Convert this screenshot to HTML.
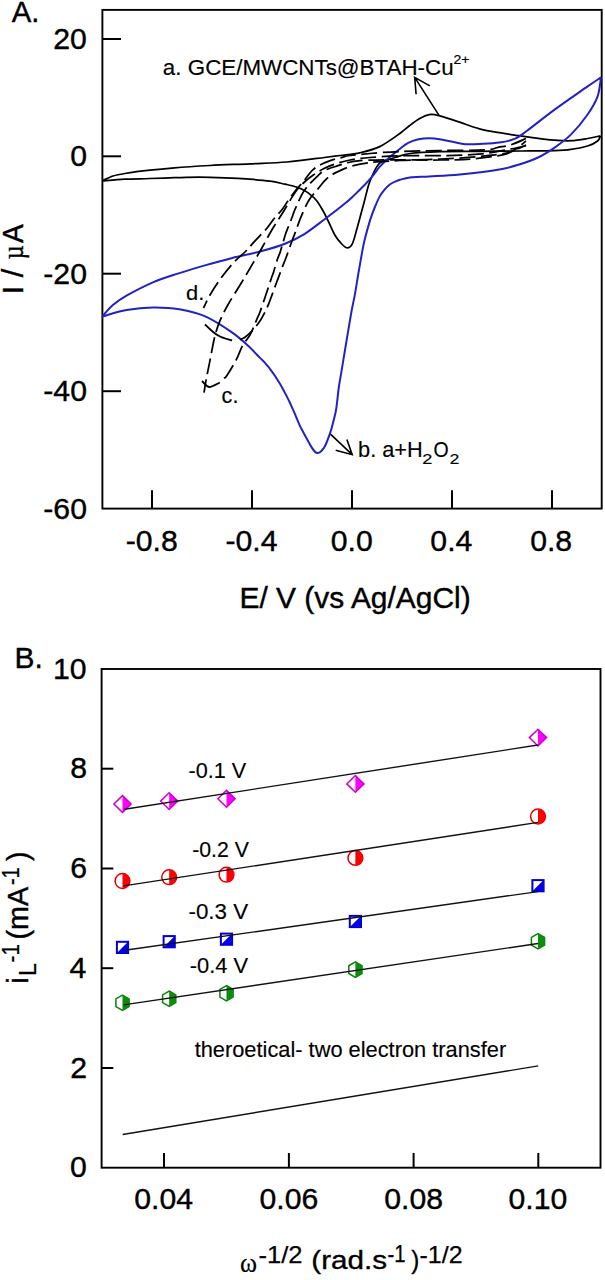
<!DOCTYPE html>
<html><head><meta charset="utf-8"><style>
html,body{margin:0;padding:0;background:#fff;overflow:hidden;}
svg{display:block;}
</style></head><body>
<svg width="605" height="1280" viewBox="0 0 605 1280">
<rect width="605" height="1280" fill="#fff"/>
<rect x="102.4" y="9.9" width="499.3" height="498.7" fill="none" stroke="#000" stroke-width="1.9"/>
<line x1="102.4" y1="39.0" x2="121.0" y2="39.0" stroke="#000" stroke-width="2"/>
<line x1="102.4" y1="156.3" x2="121.0" y2="156.3" stroke="#000" stroke-width="2"/>
<line x1="102.4" y1="273.7" x2="121.0" y2="273.7" stroke="#000" stroke-width="2"/>
<line x1="102.4" y1="391.2" x2="121.0" y2="391.2" stroke="#000" stroke-width="2"/>
<line x1="152.0" y1="508.6" x2="152.0" y2="490.3" stroke="#000" stroke-width="2"/>
<line x1="252.0" y1="508.6" x2="252.0" y2="490.3" stroke="#000" stroke-width="2"/>
<line x1="352.0" y1="508.6" x2="352.0" y2="490.3" stroke="#000" stroke-width="2"/>
<line x1="452.0" y1="508.6" x2="452.0" y2="490.3" stroke="#000" stroke-width="2"/>
<line x1="552.0" y1="508.6" x2="552.0" y2="490.3" stroke="#000" stroke-width="2"/>
<text x="53.28" y="49.00" font-size="30.20" stroke="#000" stroke-width="0.40" font-family='"Liberation Sans", sans-serif' fill="#000" >20</text>
<text x="70.20" y="166.30" font-size="30.20" stroke="#000" stroke-width="0.40" font-family='"Liberation Sans", sans-serif' fill="#000" >0</text>
<text x="43.32" y="283.70" font-size="30.20" stroke="#000" stroke-width="0.40" font-family='"Liberation Sans", sans-serif' fill="#000" >-20</text>
<text x="43.32" y="401.20" font-size="30.20" stroke="#000" stroke-width="0.40" font-family='"Liberation Sans", sans-serif' fill="#000" >-40</text>
<text x="43.32" y="518.80" font-size="30.20" stroke="#000" stroke-width="0.40" font-family='"Liberation Sans", sans-serif' fill="#000" >-60</text>
<text x="125.73" y="551.00" font-size="30.20" stroke="#000" stroke-width="0.40" font-family='"Liberation Sans", sans-serif' fill="#000" >-0.8</text>
<text x="225.43" y="551.00" font-size="30.20" stroke="#000" stroke-width="0.40" font-family='"Liberation Sans", sans-serif' fill="#000" >-0.4</text>
<text x="330.71" y="551.00" font-size="30.20" stroke="#000" stroke-width="0.40" font-family='"Liberation Sans", sans-serif' fill="#000" >0.0</text>
<text x="430.36" y="551.00" font-size="30.20" stroke="#000" stroke-width="0.40" font-family='"Liberation Sans", sans-serif' fill="#000" >0.4</text>
<text x="530.16" y="551.00" font-size="30.20" stroke="#000" stroke-width="0.40" font-family='"Liberation Sans", sans-serif' fill="#000" >0.8</text>
<text x="11.80" y="22.30" font-size="29.60" stroke="#000" stroke-width="0.40" textLength="27.69" lengthAdjust="spacingAndGlyphs" font-family='"Liberation Sans", sans-serif' fill="#000" >A.</text>
<text x="239.41" y="607.50" font-size="29.50" stroke="#000" stroke-width="0.40" textLength="231.32" lengthAdjust="spacingAndGlyphs" font-family='"Liberation Sans", sans-serif' fill="#000" >E/ V (vs Ag/AgCl)</text>
<g transform="translate(22.5,292.0) rotate(-90)"><text x="-2.23" y="0.00" font-size="29.50" stroke="#000" stroke-width="0.40" textLength="25.32" lengthAdjust="spacingAndGlyphs" font-family='"Liberation Sans", sans-serif' fill="#000" >I /</text><text x="32.74" y="0.00" font-size="29.00" stroke="#000" stroke-width="0.40" textLength="13.97" lengthAdjust="spacingAndGlyphs" font-family='"Liberation Serif", serif' fill="#000" >µ</text><text x="48.99" y="0.00" font-size="29.50" stroke="#000" stroke-width="0.40" textLength="18.72" lengthAdjust="spacingAndGlyphs" font-family='"Liberation Sans", sans-serif' fill="#000" >A</text></g>
<text x="162.88" y="74.80" font-size="21.80" stroke="#000" stroke-width="0.15" textLength="290.74" lengthAdjust="spacingAndGlyphs" font-family='"Liberation Sans", sans-serif' fill="#000" >a. GCE/MWCNTs@BTAH-Cu</text>
<text x="453.60" y="63.90" font-size="13.50" stroke="#000" stroke-width="0.20" textLength="15.95" lengthAdjust="spacingAndGlyphs" font-family='"Liberation Sans", sans-serif' fill="#000" >2+</text>
<text x="358.07" y="456.80" font-size="21.80" stroke="#000" stroke-width="0.15" textLength="64.68" lengthAdjust="spacingAndGlyphs" font-family='"Liberation Sans", sans-serif' fill="#000" >b. a+H</text>
<text x="422.31" y="464.00" font-size="15.00" stroke="#000" stroke-width="0.20" textLength="10.10" lengthAdjust="spacingAndGlyphs" font-family='"Liberation Sans", sans-serif' fill="#000" >2</text>
<text x="433.49" y="456.80" font-size="21.80" stroke="#000" stroke-width="0.15" textLength="15.17" lengthAdjust="spacingAndGlyphs" font-family='"Liberation Sans", sans-serif' fill="#000" >O</text>
<text x="449.76" y="464.00" font-size="15.00" stroke="#000" stroke-width="0.20" textLength="9.52" lengthAdjust="spacingAndGlyphs" font-family='"Liberation Sans", sans-serif' fill="#000" >2</text>
<text x="221.61" y="403.00" font-size="21.50" stroke="#000" stroke-width="0.15" textLength="16.81" lengthAdjust="spacingAndGlyphs" font-family='"Liberation Sans", sans-serif' fill="#000" >c.</text>
<text x="186.10" y="299.50" font-size="21.00" stroke="#000" stroke-width="0.15" textLength="18.26" lengthAdjust="spacingAndGlyphs" font-family='"Liberation Sans", sans-serif' fill="#000" >d.</text>
<path d="M439.2,115.6 L414.7,77.4 M416.1,94.3 L414.7,77.4 L429.8,85.9" fill="none" stroke="#000" stroke-width="1.6"/>
<path d="M329.9,433.6 L352.2,454.7 M335.7,450.2 L352.2,454.7 L346.9,439.4" fill="none" stroke="#000" stroke-width="1.6"/>
<path d="M102.0,181.0 C103.8,180.2 109.2,177.2 113.0,176.0 C116.8,174.8 118.6,174.5 124.8,173.5 C131.0,172.5 141.7,171.1 150.0,170.2 C158.3,169.2 164.4,168.6 174.4,167.8 C184.4,167.0 197.4,166.2 210.0,165.5 C222.6,164.8 237.2,164.4 250.0,163.8 C262.8,163.2 274.6,163.1 287.0,162.0 C299.4,160.9 315.6,158.6 324.4,157.5 C333.2,156.4 334.1,156.3 340.0,155.5 C345.9,154.7 353.2,154.3 359.8,152.8 C366.4,151.3 373.1,149.8 379.7,146.6 C386.3,143.4 394.6,137.2 399.5,133.7 C404.4,130.2 406.1,128.3 409.4,125.8 C412.7,123.3 416.0,120.7 419.3,118.8 C422.6,116.9 425.9,115.1 429.3,114.6 C432.7,114.1 434.7,114.6 439.8,115.9 C444.9,117.2 453.1,120.0 459.7,122.2 C466.3,124.4 472.9,127.1 479.5,128.8 C486.1,130.6 492.7,131.5 499.3,132.7 C505.9,133.8 512.4,134.7 519.2,135.7 C526.0,136.7 534.1,137.8 540.0,138.6 C545.9,139.3 549.4,139.8 554.6,140.2 C559.8,140.5 565.6,141.0 571.1,140.7 C576.6,140.4 582.7,139.3 587.6,138.5 C592.5,137.7 598.4,136.2 600.5,135.8 M600.5,135.8 C600.0,136.7 599.8,139.3 597.6,141.0 C595.5,142.7 592.0,144.6 587.6,146.0 C583.2,147.4 576.6,148.5 571.1,149.3 C565.6,150.1 562.9,150.3 554.6,150.6 C546.3,150.9 533.9,150.9 521.5,151.0 C509.1,151.1 493.6,151.2 480.0,151.3 C466.4,151.4 451.7,151.2 440.0,151.6 C428.3,152.0 417.5,152.5 410.0,153.5 C402.5,154.5 399.0,156.4 395.0,157.5 C391.0,158.6 388.4,159.4 386.0,160.2 C383.6,161.0 382.2,161.1 380.6,162.2 C379.1,163.3 378.0,164.8 376.7,166.9 C375.4,169.0 374.0,171.8 372.7,174.8 C371.4,177.8 370.0,180.6 368.7,184.7 C367.4,188.8 366.1,194.6 364.8,199.6 C363.5,204.6 362.1,209.6 360.8,214.5 C359.5,219.4 358.2,224.4 356.8,229.3 C355.4,234.2 353.9,240.7 352.3,243.8 C350.7,246.9 348.9,247.9 347.0,247.8 C345.1,247.7 343.0,245.3 341.0,243.2 C339.0,241.1 337.1,238.9 335.0,235.3 C332.9,231.8 330.6,225.9 328.6,221.9 C326.7,217.9 325.3,214.8 323.3,211.3 C321.3,207.8 319.1,203.7 316.7,200.7 C314.3,197.7 311.4,195.4 308.8,193.4 C306.2,191.4 303.6,190.0 301.0,188.8 C298.4,187.6 295.7,186.8 293.0,186.0 C290.3,185.2 288.8,185.0 285.0,184.2 C281.2,183.4 275.8,182.0 270.0,181.2 C264.2,180.4 257.5,179.8 250.0,179.2 C242.5,178.6 233.5,178.1 225.0,177.8 C216.5,177.5 207.6,177.2 199.2,177.2 C190.8,177.2 182.6,177.5 174.4,177.7 C166.2,177.9 158.3,178.2 150.0,178.5 C141.7,178.8 132.8,178.8 124.8,179.2 C116.8,179.6 105.8,180.7 102.0,181.0" fill="none" stroke="#000" stroke-width="1.75"/>
<path d="M102.0,316.7 C103.9,314.7 109.1,308.3 113.2,304.8 C117.3,301.3 119.9,299.4 126.5,295.6 C133.1,291.9 144.1,286.1 152.9,282.3 C161.7,278.6 170.6,276.0 179.4,273.1 C188.2,270.2 197.0,267.6 205.8,265.1 C214.6,262.6 223.3,260.3 232.3,258.0 C241.3,255.7 251.2,253.9 260.0,251.5 C268.8,249.1 277.5,246.6 285.0,243.7 C292.5,240.8 298.2,237.9 304.8,233.8 C311.4,229.7 318.0,224.2 324.7,219.2 C331.4,214.2 339.9,207.7 344.9,203.6 C349.9,199.5 351.5,197.8 354.8,194.6 C358.1,191.4 361.8,187.8 364.8,184.7 C367.8,181.6 370.2,178.8 372.7,175.8 C375.2,172.8 377.3,169.6 379.6,166.9 C381.9,164.2 384.0,162.2 386.6,159.9 C389.2,157.6 392.5,154.9 395.0,152.8 C397.5,150.7 399.4,149.2 401.6,147.5 C403.8,145.8 405.6,144.2 408.2,142.9 C410.8,141.6 414.0,140.3 417.5,139.5 C421.0,138.7 425.4,138.2 429.4,138.2 C433.4,138.2 437.1,138.8 441.3,139.5 C445.5,140.2 450.5,141.4 454.5,142.2 C458.5,143.0 460.9,143.9 465.1,144.2 C469.3,144.5 473.8,144.3 479.5,144.0 C485.2,143.7 493.4,143.5 499.3,142.6 C505.2,141.7 510.6,140.7 515.2,138.7 C519.8,136.7 520.5,135.5 527.1,130.7 C533.7,125.8 544.5,117.0 554.6,109.6 C564.7,102.2 579.9,91.8 587.6,86.4 C595.3,81.0 598.8,78.9 601.0,77.4 M601.0,77.4 C600.4,80.6 599.8,90.2 597.6,96.4 C595.4,102.6 592.0,108.2 587.6,114.5 C583.2,120.8 576.6,128.9 571.1,134.4 C565.6,139.9 560.1,143.8 554.6,147.6 C549.1,151.4 543.9,154.7 538.0,157.5 C532.1,160.3 525.7,162.5 519.2,164.5 C512.8,166.5 509.2,167.8 499.3,169.4 C489.4,171.1 471.4,173.2 459.7,174.4 C448.0,175.6 437.6,175.9 429.3,176.4 C421.0,176.9 414.9,176.9 410.0,177.5 C405.1,178.1 402.5,179.1 400.0,179.8 C397.5,180.5 396.8,180.9 395.0,181.7 C393.2,182.5 391.2,183.4 389.5,184.7 C387.8,186.0 386.2,187.7 384.6,189.7 C383.0,191.7 381.2,193.6 379.6,196.6 C378.0,199.6 376.4,203.4 374.7,207.5 C373.0,211.6 371.3,216.1 369.7,221.4 C368.1,226.7 366.0,234.5 364.8,239.3 C363.6,244.1 363.6,244.1 362.5,250.0 C361.4,255.9 359.4,267.7 358.1,275.0 C356.9,282.3 356.1,287.6 355.0,293.8 C353.9,300.1 352.4,306.2 351.3,312.5 C350.2,318.8 349.2,325.1 348.1,331.3 C347.1,337.6 346.0,343.8 345.0,350.0 C344.0,356.2 342.9,362.6 341.9,368.8 C340.9,375.1 339.7,380.9 338.8,387.5 C337.9,394.1 337.1,402.9 336.3,408.3 C335.5,413.7 334.6,416.4 333.8,419.8 C333.0,423.2 332.2,426.1 331.4,428.9 C330.6,431.7 329.7,434.0 328.9,436.4 C328.1,438.8 327.2,441.1 326.4,443.0 C325.6,444.9 324.9,446.4 323.9,447.9 C322.9,449.3 321.6,450.9 320.6,451.7 C319.6,452.5 318.6,452.8 317.7,452.9 C316.8,452.9 316.2,453.0 315.2,452.0 C314.2,451.0 312.8,449.2 311.5,447.1 C310.2,445.1 308.8,442.2 307.4,439.7 C306.0,437.2 304.6,434.6 303.3,432.2 C302.0,429.8 301.1,428.4 299.7,425.3 C298.3,422.2 296.3,417.2 294.7,413.4 C293.1,409.6 291.4,406.0 289.8,402.5 C288.2,399.0 286.5,395.8 284.8,392.6 C283.1,389.5 281.5,386.4 279.8,383.6 C278.1,380.8 276.5,378.2 274.9,375.7 C273.2,373.2 271.5,370.9 269.9,368.8 C268.2,366.7 266.6,364.6 265.0,362.8 C263.4,361.0 262.8,360.7 260.0,357.9 C257.2,355.1 252.7,350.0 248.1,345.8 C243.5,341.6 239.4,337.5 232.3,332.6 C225.2,327.8 214.6,320.6 205.8,316.7 C197.0,312.8 188.2,310.8 179.4,309.3 C170.6,307.8 161.7,307.4 152.9,307.5 C144.1,307.6 135.0,308.6 126.5,310.1 C118.0,311.6 106.1,315.6 102.0,316.7" fill="none" stroke="#2222c4" stroke-width="2.0"/>
<path d="M526.0,138.5 C523.5,139.6 515.7,143.3 511.0,144.8 C506.3,146.3 502.2,146.5 498.0,147.3 C493.8,148.1 495.7,149.2 486.0,149.8 C476.3,150.4 454.3,150.3 440.0,150.6 C425.7,150.9 411.7,151.0 400.0,151.5 C388.3,152.0 378.3,152.8 370.0,153.5 C361.7,154.2 355.0,154.8 350.0,155.5 C345.0,156.2 343.3,157.2 340.0,158.0 C336.7,158.8 333.6,159.4 330.2,160.6 C326.8,161.8 322.8,163.5 319.7,165.2 C316.6,166.9 314.5,168.2 311.7,171.0 C308.9,173.8 305.7,178.8 303.0,182.0 C300.3,185.2 297.9,187.5 295.5,190.5 C293.1,193.5 291.1,196.6 288.8,199.8 C286.5,203.0 284.2,206.8 281.9,209.8 C279.6,212.8 277.5,214.5 274.9,217.7 C272.3,220.8 269.8,224.9 266.5,228.7 C263.2,232.5 258.7,236.9 255.3,240.6 C251.9,244.3 249.7,247.2 246.0,251.0 C242.3,254.8 237.4,258.4 233.0,263.2 C228.6,268.0 223.6,274.5 219.8,279.8 C216.0,285.1 212.7,290.3 210.0,295.0 C207.3,299.7 204.6,305.8 203.5,308.0" fill="none" stroke="#000" stroke-width="1.75" stroke-dasharray="16,5.5"/>
<path d="M240.0,339.6 C240.8,339.2 243.0,338.6 245.0,337.2 C247.0,335.8 249.4,333.8 251.9,331.2 C254.4,328.6 257.4,324.9 259.8,321.3 C262.2,317.7 264.5,313.2 266.3,309.4 C268.1,305.6 269.1,302.7 270.7,298.5 C272.3,294.3 274.2,288.9 276.0,284.0 C277.8,279.1 280.1,273.1 281.7,268.8 C283.3,264.5 284.1,262.8 285.8,258.3 C287.5,253.8 289.8,246.9 291.6,242.0 C293.4,237.1 295.2,232.7 296.7,228.6 C298.2,224.5 298.7,222.3 300.7,217.7 C302.7,213.1 305.8,205.5 308.6,200.8 C311.4,196.1 314.5,193.2 317.6,189.4 C320.7,185.6 323.9,181.2 327.3,178.2 C330.7,175.2 333.9,173.6 337.9,171.6 C341.9,169.6 345.8,167.8 351.1,166.3 C356.5,164.8 361.9,163.5 370.0,162.5 C378.1,161.5 388.3,161.1 400.0,160.5 C411.7,159.9 426.7,159.7 440.0,159.0 C453.3,158.3 468.3,157.7 480.0,156.5 C491.7,155.3 502.3,154.6 510.0,152.0 C517.7,149.4 523.3,142.8 526.0,141.0" fill="none" stroke="#000" stroke-width="1.75" stroke-dasharray="16,5.5"/>
<path d="M526.0,145.7 C524.3,146.1 519.3,147.4 516.0,148.1 C512.7,148.8 511.9,148.8 506.1,149.8 C500.3,150.8 491.8,152.9 481.3,153.9 C470.8,154.9 456.9,155.3 443.3,155.6 C429.8,155.9 412.2,155.5 400.0,155.8 C387.8,156.1 378.3,156.8 370.0,157.5 C361.7,158.2 355.8,158.9 350.0,160.0 C344.2,161.1 339.3,162.6 335.0,164.0 C330.7,165.4 327.5,166.8 324.0,168.5 C320.5,170.2 317.2,172.3 314.0,174.5 C310.8,176.7 307.9,178.9 305.0,181.5 C302.1,184.1 299.2,187.1 296.9,190.0 C294.6,192.9 293.5,194.9 291.0,198.9 C288.5,202.9 285.3,208.6 282.1,213.8 C278.9,219.0 274.9,224.8 271.7,230.2 C268.5,235.6 265.9,240.8 262.7,246.5 C259.5,252.2 255.9,258.3 252.3,264.4 C248.7,270.5 245.3,276.3 241.3,283.0 C237.3,289.7 231.7,298.1 228.1,304.5 C224.5,310.9 222.0,315.8 219.8,321.1 C217.6,326.4 216.5,329.8 214.8,336.5 C213.1,343.2 211.2,354.4 209.8,361.3 C208.4,368.2 207.5,372.7 206.5,377.9 C205.5,383.1 204.4,390.2 204.0,392.7" fill="none" stroke="#000" stroke-width="1.75" stroke-dasharray="16,5.5"/>
<path d="M224.0,378.0 C224.4,377.7 224.3,379.2 226.4,376.2 C228.5,373.1 233.6,364.9 236.3,359.7 C239.1,354.5 240.6,348.9 242.9,344.8 C245.2,340.7 247.7,339.3 249.9,335.2 C252.2,331.1 254.7,324.2 256.4,320.3 C258.1,316.4 258.7,315.5 260.0,312.0 C261.3,308.5 263.2,302.6 264.3,299.5 C265.4,296.4 265.2,297.1 266.3,293.6 C267.4,290.1 270.0,282.4 271.2,278.7 C272.4,275.0 272.7,274.9 273.7,271.7 C274.7,268.5 276.3,262.7 277.4,259.3 C278.5,255.9 279.2,255.2 280.4,251.4 C281.6,247.6 283.7,240.0 284.8,236.5 C285.9,233.0 285.6,233.9 286.8,230.6 C288.1,227.3 291.0,220.2 292.3,216.7 C293.6,213.2 293.2,213.4 294.8,209.8 C296.4,206.2 299.8,198.6 301.7,194.9 C303.6,191.2 304.9,189.6 306.5,187.5 C308.1,185.4 309.5,184.2 311.4,182.2 C313.3,180.2 315.9,177.6 318.1,175.6 C320.3,173.6 321.4,172.0 324.7,170.3 C328.0,168.7 334.3,166.9 337.9,165.7 C341.5,164.5 342.4,164.0 346.1,163.2 C349.8,162.3 351.0,161.2 360.0,160.6 C369.0,160.0 386.7,159.9 400.0,159.8 C413.3,159.7 427.8,160.2 440.0,160.0 C452.2,159.8 462.5,159.8 473.0,158.9 C483.5,158.0 495.8,156.3 502.8,154.8 C509.8,153.3 511.1,151.6 515.0,150.0 C518.9,148.4 524.2,145.8 526.0,145.0" fill="none" stroke="#000" stroke-width="1.75" stroke-dasharray="16,5.5"/>
<path d="M205.0,324.5 C206.2,325.6 209.5,329.0 212.0,331.0 C214.5,333.0 216.7,334.9 220.0,336.5 C223.3,338.1 230.0,339.8 232.0,340.5" fill="none" stroke="#000" stroke-width="1.9"/>
<path d="M202.0,381.0 C203.2,382.0 206.0,386.7 209.0,387.0 C212.0,387.3 218.0,383.3 219.8,382.6" fill="none" stroke="#000" stroke-width="1.9"/>
<rect x="101.6" y="669.0" width="498.9" height="498.7" fill="none" stroke="#000" stroke-width="1.9"/>
<line x1="101.6" y1="768.7" x2="113.3" y2="768.7" stroke="#000" stroke-width="2"/>
<line x1="101.6" y1="868.5" x2="113.3" y2="868.5" stroke="#000" stroke-width="2"/>
<line x1="101.6" y1="968.2" x2="113.3" y2="968.2" stroke="#000" stroke-width="2"/>
<line x1="101.6" y1="1068.0" x2="113.3" y2="1068.0" stroke="#000" stroke-width="2"/>
<line x1="164.0" y1="1167.7" x2="164.0" y2="1153.0" stroke="#000" stroke-width="2"/>
<line x1="288.9" y1="1167.7" x2="288.9" y2="1153.0" stroke="#000" stroke-width="2"/>
<line x1="413.6" y1="1167.7" x2="413.6" y2="1153.0" stroke="#000" stroke-width="2"/>
<line x1="538.3" y1="1167.7" x2="538.3" y2="1153.0" stroke="#000" stroke-width="2"/>
<text x="52.98" y="678.60" font-size="30.20" stroke="#000" stroke-width="0.40" font-family='"Liberation Sans", sans-serif' fill="#000" >10</text>
<text x="70.20" y="778.30" font-size="30.20" stroke="#000" stroke-width="0.40" font-family='"Liberation Sans", sans-serif' fill="#000" >8</text>
<text x="70.20" y="878.10" font-size="30.20" stroke="#000" stroke-width="0.40" font-family='"Liberation Sans", sans-serif' fill="#000" >6</text>
<text x="69.59" y="977.80" font-size="30.20" stroke="#000" stroke-width="0.40" font-family='"Liberation Sans", sans-serif' fill="#000" >4</text>
<text x="70.20" y="1077.60" font-size="30.20" stroke="#000" stroke-width="0.40" font-family='"Liberation Sans", sans-serif' fill="#000" >2</text>
<text x="69.90" y="1177.30" font-size="30.20" stroke="#000" stroke-width="0.40" font-family='"Liberation Sans", sans-serif' fill="#000" >0</text>
<text x="134.30" y="1209.20" font-size="30.20" stroke="#000" stroke-width="0.40" font-family='"Liberation Sans", sans-serif' fill="#000" >0.04</text>
<text x="259.51" y="1209.20" font-size="30.20" stroke="#000" stroke-width="0.40" font-family='"Liberation Sans", sans-serif' fill="#000" >0.06</text>
<text x="384.31" y="1209.20" font-size="30.20" stroke="#000" stroke-width="0.40" font-family='"Liberation Sans", sans-serif' fill="#000" >0.08</text>
<text x="508.56" y="1209.20" font-size="30.20" stroke="#000" stroke-width="0.40" font-family='"Liberation Sans", sans-serif' fill="#000" >0.10</text>
<text x="14.50" y="668.20" font-size="29.60" stroke="#000" stroke-width="0.40" textLength="28.34" lengthAdjust="spacingAndGlyphs" font-family='"Liberation Sans", sans-serif' fill="#000" >B.</text>
<path d="M122.5,795.6 L131.1,804.0 L122.5,812.4 Z" fill="#ff00ff"/><path d="M122.5,795.6 L131.1,804.0 L122.5,812.4 L113.9,804.0 Z" fill="none" stroke="#d000d0" stroke-width="1.5"/>
<path d="M169.2,792.7 L177.8,801.1 L169.2,809.5 Z" fill="#ff00ff"/><path d="M169.2,792.7 L177.8,801.1 L169.2,809.5 L160.6,801.1 Z" fill="none" stroke="#d000d0" stroke-width="1.5"/>
<path d="M226.5,790.4 L235.1,798.8 L226.5,807.2 Z" fill="#ff00ff"/><path d="M226.5,790.4 L235.1,798.8 L226.5,807.2 L217.9,798.8 Z" fill="none" stroke="#d000d0" stroke-width="1.5"/>
<path d="M355.4,775.5 L364.0,783.9 L355.4,792.3 Z" fill="#ff00ff"/><path d="M355.4,775.5 L364.0,783.9 L355.4,792.3 L346.8,783.9 Z" fill="none" stroke="#d000d0" stroke-width="1.5"/>
<path d="M538.0,729.2 L546.6,737.6 L538.0,746.0 Z" fill="#ff00ff"/><path d="M538.0,729.2 L546.6,737.6 L538.0,746.0 L529.4,737.6 Z" fill="none" stroke="#d000d0" stroke-width="1.5"/>
<circle cx="122.5" cy="881.0" r="7.4" fill="#fff" stroke="#e00000" stroke-width="1.5"/><path d="M122.5,873.6 A7.4,7.4 0 0 1 122.5,888.4 Z" fill="#ff0000"/>
<circle cx="169.2" cy="877.2" r="7.4" fill="#fff" stroke="#e00000" stroke-width="1.5"/><path d="M169.2,869.8 A7.4,7.4 0 0 1 169.2,884.6 Z" fill="#ff0000"/>
<circle cx="226.5" cy="874.7" r="7.4" fill="#fff" stroke="#e00000" stroke-width="1.5"/><path d="M226.5,867.3 A7.4,7.4 0 0 1 226.5,882.1 Z" fill="#ff0000"/>
<circle cx="355.4" cy="857.9" r="7.4" fill="#fff" stroke="#e00000" stroke-width="1.5"/><path d="M355.4,850.5 A7.4,7.4 0 0 1 355.4,865.3 Z" fill="#ff0000"/>
<circle cx="538.0" cy="816.5" r="7.4" fill="#fff" stroke="#e00000" stroke-width="1.5"/><path d="M538.0,809.1 A7.4,7.4 0 0 1 538.0,823.9 Z" fill="#ff0000"/>
<rect x="116.9" y="941.8" width="11.2" height="11.2" fill="#fff" stroke="#0000d0" stroke-width="2"/><path d="M116.9,953.0 L128.1,941.8 L128.1,953.0 Z" fill="#0000ea"/>
<rect x="163.6" y="936.1" width="11.2" height="11.2" fill="#fff" stroke="#0000d0" stroke-width="2"/><path d="M163.6,947.3 L174.8,936.1 L174.8,947.3 Z" fill="#0000ea"/>
<rect x="220.9" y="933.6" width="11.2" height="11.2" fill="#fff" stroke="#0000d0" stroke-width="2"/><path d="M220.9,944.8 L232.1,933.6 L232.1,944.8 Z" fill="#0000ea"/>
<rect x="349.8" y="915.9" width="11.2" height="11.2" fill="#fff" stroke="#0000d0" stroke-width="2"/><path d="M349.8,927.1 L361.0,915.9 L361.0,927.1 Z" fill="#0000ea"/>
<rect x="532.4" y="880.1" width="11.2" height="11.2" fill="#fff" stroke="#0000d0" stroke-width="2"/><path d="M532.4,891.3 L543.6,880.1 L543.6,891.3 Z" fill="#0000ea"/>
<path d="M122.5,995.1 L129.1,998.9 L129.1,1006.6 L122.5,1010.5 L115.9,1006.6 L115.9,998.9 Z" fill="#fff" stroke="#0a820a" stroke-width="1.5"/><path d="M122.5,995.1 L129.1,998.9 L129.1,1006.6 L122.5,1010.5 Z" fill="#0b8e0b"/>
<path d="M169.2,991.0 L175.8,994.9 L175.8,1002.6 L169.2,1006.4 L162.6,1002.6 L162.6,994.9 Z" fill="#fff" stroke="#0a820a" stroke-width="1.5"/><path d="M169.2,991.0 L175.8,994.9 L175.8,1002.6 L169.2,1006.4 Z" fill="#0b8e0b"/>
<path d="M226.5,985.5 L233.1,989.4 L233.1,997.1 L226.5,1000.9 L219.9,997.1 L219.9,989.4 Z" fill="#fff" stroke="#0a820a" stroke-width="1.5"/><path d="M226.5,985.5 L233.1,989.4 L233.1,997.1 L226.5,1000.9 Z" fill="#0b8e0b"/>
<path d="M355.4,961.9 L362.0,965.8 L362.0,973.5 L355.4,977.3 L348.8,973.5 L348.8,965.8 Z" fill="#fff" stroke="#0a820a" stroke-width="1.5"/><path d="M355.4,961.9 L362.0,965.8 L362.0,973.5 L355.4,977.3 Z" fill="#0b8e0b"/>
<path d="M538.0,933.6 L544.6,937.4 L544.6,945.1 L538.0,949.0 L531.4,945.1 L531.4,937.4 Z" fill="#fff" stroke="#0a820a" stroke-width="1.5"/><path d="M538.0,933.6 L544.6,937.4 L544.6,945.1 L538.0,949.0 Z" fill="#0b8e0b"/>
<line x1="124.5" y1="809.3" x2="538.0" y2="745.0" stroke="#111" stroke-width="1.4"/>
<line x1="123.6" y1="885.9" x2="538.0" y2="822.4" stroke="#111" stroke-width="1.4"/>
<line x1="124.8" y1="950.3" x2="538.0" y2="891.6" stroke="#111" stroke-width="1.4"/>
<line x1="123.6" y1="1004.9" x2="538.0" y2="943.5" stroke="#111" stroke-width="1.4"/>
<line x1="122.7" y1="1134.5" x2="538.2" y2="1065.9" stroke="#111" stroke-width="1.4"/>
<text x="188.51" y="777.50" font-size="21.80" stroke="#000" stroke-width="0.15" textLength="57.69" lengthAdjust="spacingAndGlyphs" font-family='"Liberation Sans", sans-serif' fill="#000" >-0.1 V</text>
<text x="192.22" y="857.40" font-size="21.80" stroke="#000" stroke-width="0.15" textLength="56.67" lengthAdjust="spacingAndGlyphs" font-family='"Liberation Sans", sans-serif' fill="#000" >-0.2 V</text>
<text x="188.48" y="918.80" font-size="21.80" stroke="#000" stroke-width="0.15" textLength="59.61" lengthAdjust="spacingAndGlyphs" font-family='"Liberation Sans", sans-serif' fill="#000" >-0.3 V</text>
<text x="189.70" y="972.70" font-size="21.80" stroke="#000" stroke-width="0.15" textLength="58.40" lengthAdjust="spacingAndGlyphs" font-family='"Liberation Sans", sans-serif' fill="#000" >-0.4 V</text>
<text x="194.66" y="1056.70" font-size="21.50" stroke="#000" stroke-width="0.15" textLength="311.55" lengthAdjust="spacingAndGlyphs" font-family='"Liberation Sans", sans-serif' fill="#000" >theroetical- two electron transfer</text>
<text x="240.06" y="1271.50" font-size="28.00" stroke="#000" stroke-width="0.20" textLength="17.04" lengthAdjust="spacingAndGlyphs" font-family='"Liberation Serif", serif' fill="#000" >ω</text>
<text x="258.51" y="1262.50" font-size="24.00" stroke="#000" stroke-width="0.25" textLength="44.06" lengthAdjust="spacingAndGlyphs" font-family='"Liberation Sans", sans-serif' fill="#000" >-1/2</text>
<text x="311.32" y="1269.40" font-size="26.50" stroke="#000" stroke-width="0.35" textLength="75.75" lengthAdjust="spacingAndGlyphs" font-family='"Liberation Sans", sans-serif' fill="#000" >(rad.s</text>
<text x="387.49" y="1262.40" font-size="23.00" stroke="#000" stroke-width="0.25" textLength="18.20" lengthAdjust="spacingAndGlyphs" font-family='"Liberation Sans", sans-serif' fill="#000" >-1</text>
<text x="411.32" y="1269.40" font-size="26.50" stroke="#000" stroke-width="0.35" textLength="8.04" lengthAdjust="spacingAndGlyphs" font-family='"Liberation Sans", sans-serif' fill="#000" >)</text>
<text x="419.53" y="1262.50" font-size="24.00" stroke="#000" stroke-width="0.25" textLength="43.01" lengthAdjust="spacingAndGlyphs" font-family='"Liberation Sans", sans-serif' fill="#000" >-1/2</text>
<g transform="translate(28.0,982.8) rotate(-90)"><text x="-1.03" y="0.00" font-size="29.00" stroke="#000" stroke-width="0.40" font-family='"Liberation Sans", sans-serif' fill="#000" >i</text><text x="6.70" y="8.00" font-size="24.00" stroke="#000" stroke-width="0.30" textLength="12.78" lengthAdjust="spacingAndGlyphs" font-family='"Liberation Sans", sans-serif' fill="#000" >L</text><text x="20.30" y="-9.00" font-size="24.00" stroke="#000" stroke-width="0.30" textLength="18.38" lengthAdjust="spacingAndGlyphs" font-family='"Liberation Sans", sans-serif' fill="#000" >-1</text><text x="43.27" y="0.00" font-size="29.00" stroke="#000" stroke-width="0.40" textLength="52.71" lengthAdjust="spacingAndGlyphs" font-family='"Liberation Sans", sans-serif' fill="#000" >(mA</text><text x="97.72" y="-9.00" font-size="24.00" stroke="#000" stroke-width="0.30" textLength="17.84" lengthAdjust="spacingAndGlyphs" font-family='"Liberation Sans", sans-serif' fill="#000" >-1</text><text x="121.71" y="0.00" font-size="29.00" stroke="#000" stroke-width="0.40" font-family='"Liberation Sans", sans-serif' fill="#000" >)</text></g>
</svg>
</body></html>
